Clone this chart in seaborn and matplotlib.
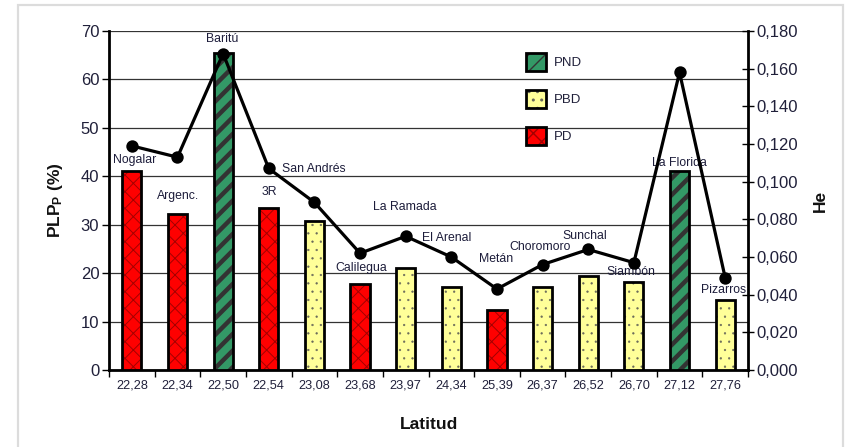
import matplotlib
matplotlib.use("Agg")
import matplotlib.pyplot as plt
import seaborn as sns
import pandas as pd
from matplotlib.patches import Rectangle
from matplotlib.ticker import FuncFormatter, FixedLocator

# Sampling sites ordered by latitude
latitudes = ["22,28", "22,34", "22,50", "22,54", "23,08", "23,68", "23,97",
             "24,34", "25,39", "26,37", "26,52", "26,70", "27,12", "27,76"]
sites = ["Nogalar", "Argenc.", "Baritú", "3R", "San Andrés", "Calilegua",
         "La Ramada", "El Arenal", "Metán", "Choromoro", "Sunchal", "Siambón",
         "La Florida", "Pizarros"]
plp = [41.0, 32.3, 65.5, 33.4, 30.7, 17.7, 21.0, 17.1, 12.4, 17.1, 19.4, 18.1, 41.1, 14.4]
he = [0.119, 0.113, 0.168, 0.107, 0.089, 0.062, 0.071, 0.060, 0.043, 0.056,
      0.064, 0.057, 0.158, 0.049]
forest = ["PD", "PD", "PND", "PD", "PBD", "PD", "PBD", "PBD", "PD", "PBD",
          "PBD", "PBD", "PND", "PBD"]
legend_order = ["PND", "PBD", "PD"]

# Site name placement (category position, PLP axis height)
label_x = [0.07, 1.01, 1.98, 3.01, 3.99, 5.02, 5.99, 6.9, 7.97, 8.94, 9.93, 10.94, 12.0, 12.97]
label_y = [43.3, 35.9, 68.3, 36.7, 41.5, 21.0, 33.6, 27.2, 22.9, 25.4, 27.6, 20.2, 42.7, 16.5]

fill = {"PND": "#339966", "PBD": "#ffff99", "PD": "#ff0000"}
hatch = {"PND": "//", "PBD": "..", "PD": "xx"}
hatch_col = {"PND": "#333333", "PBD": "#6a6a5a", "PD": "#a30000"}
hatch_lw = {"PND": 3.2, "PBD": 0.4, "PD": 0.7}

sns.set_theme(style="white")
plt.rcParams["font.family"] = ["Liberation Sans", "DejaVu Sans"]
plt.rcParams["mathtext.fontset"] = "custom"
plt.rcParams["mathtext.bf"] = "Liberation Sans:bold"
plt.rcParams["mathtext.rm"] = "Liberation Sans"

text_col = "#20203a"


class HatchPatch(Rectangle):
    """Rectangle whose hatch uses its own line width."""

    def __init__(self, *args, hatch_linewidth=1.0, **kwargs):
        self._own_hlw = hatch_linewidth
        super().__init__(*args, **kwargs)
        if hasattr(self, "set_hatch_linewidth"):
            self.set_hatch_linewidth(hatch_linewidth)

    def draw(self, renderer):
        with plt.rc_context({"hatch.linewidth": self._own_hlw}):
            super().draw(renderer)


df = pd.DataFrame({"lat": latitudes, "plp": plp, "he": he, "tipo": forest})

fig = plt.figure(figsize=(8.46, 4.47), dpi=100)
fig.patch.set_facecolor("white")
ax = fig.add_axes([109 / 846, 1 - 370 / 447, 639 / 846, 339 / 447])

sns.barplot(data=df, x="lat", y="plp", hue="tipo", palette=fill, dodge=False,
            width=0.42, legend=False, ax=ax, zorder=3, saturation=1)

for p in list(ax.patches):
    if p.get_height() == 0:
        continue
    idx = int(round(p.get_x() + p.get_width() / 2))
    kind = forest[idx]
    p.set_facecolor(fill[kind])
    p.set_linewidth(0)
    xy, w, h = (p.get_x(), p.get_y()), p.get_width(), p.get_height()
    ax.add_patch(HatchPatch(xy, w, h, facecolor="none", edgecolor=hatch_col[kind],
                            lw=0, hatch=hatch[kind], hatch_linewidth=hatch_lw[kind],
                            zorder=3.5))
    ax.add_patch(Rectangle(xy, w, h, fill=False, ec="black", lw=2.0, zorder=4))

ax.set_ylim(0, 70)
ax.set_xlim(-0.5, len(latitudes) - 0.5)
ax.set_yticks(range(0, 71, 10))
ax.tick_params(axis="y", direction="out", length=5, width=1, color="black",
               labelsize=12, labelcolor=text_col, pad=2, left=True)
ax.xaxis.set_minor_locator(FixedLocator([i - 0.5 for i in range(len(latitudes) + 1)]))
ax.tick_params(axis="x", which="major", length=0, labelsize=9.2,
               labelcolor=text_col, pad=7)
ax.tick_params(axis="x", which="minor", direction="out", length=5, width=1,
               color="black", bottom=True)
ax.grid(axis="y", color="#333333", lw=0.9, zorder=0)
ax.set_axisbelow(True)
for side in ["left", "bottom", "right"]:
    ax.spines[side].set_color("black")
    ax.spines[side].set_linewidth(2)
ax.spines["top"].set_visible(False)

ax.set_xlabel("Latitud", fontsize=12.5, fontweight="bold", color="#111111")
ax.xaxis.set_label_coords(0.5, -0.138)
ax.set_ylabel(r"$\mathbf{PLP_{P}}$ $\mathbf{(\%)}$", fontsize=12.5, color="#111111")
ax.yaxis.set_label_coords(-0.069, 0.5)

for i, name in enumerate(sites):
    ax.text(label_x[i], label_y[i], name, ha="center", va="center",
            fontsize=8.8, color="#1c1c3a", zorder=6)

ax2 = ax.twinx()
sns.pointplot(data=df, x="lat", y="he", color="black", markers="o",
              linestyles="-", markersize=7.2, linewidth=2.3, ax=ax2, zorder=5)
ax2.set_ylim(0, 0.18)
ax2.set_xlim(-0.5, len(latitudes) - 0.5)
ax2.set_yticks([i * 0.02 for i in range(10)])
ax2.yaxis.set_major_formatter(FuncFormatter(lambda v, _: f"{v:.3f}".replace(".", ",")))
ax2.tick_params(axis="y", direction="inout", length=8, width=1, color="black",
                labelsize=12, labelcolor=text_col, pad=2, right=True)
ax2.set_xlabel("")
ax2.set_ylabel("He", fontsize=12.5, fontweight="bold", color="#111111")
ax2.yaxis.set_label_coords(1.102, 0.5)
for side in ["left", "bottom", "right", "top"]:
    ax2.spines[side].set_visible(False)
ax2.grid(False)

# Legend with coloured hatching and black outlines
handles = []
for kind in legend_order:
    base = HatchPatch((0, 0), 1, 1, facecolor=fill[kind], edgecolor=hatch_col[kind],
                      lw=0, hatch=hatch[kind], hatch_linewidth=hatch_lw[kind])
    outline = Rectangle((0, 0), 1, 1, fill=False, edgecolor="black", lw=2.0)
    handles.append((base, outline))
fig.legend(handles, legend_order, loc="upper left",
           bbox_to_anchor=(526 / 846, 1 - 53 / 447), frameon=False,
           fontsize=9.5, handlelength=1.55, handleheight=1.7, labelspacing=1.45,
           handletextpad=0.6, borderpad=0, borderaxespad=0, labelcolor=text_col)

# Light frame around the whole figure
fig.patches.append(Rectangle((18 / 846, -0.05), (843 - 18) / 846, 1.05 - 5 / 447,
                             transform=fig.transFigure, fill=False,
                             ec="#dcdcdc", lw=1.6, zorder=0))

fig.savefig("out.png", dpi=100)
